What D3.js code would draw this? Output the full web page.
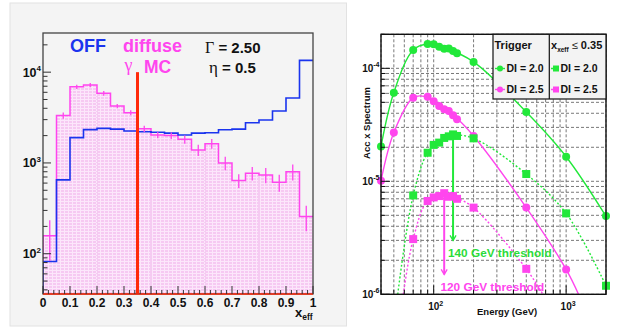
<!DOCTYPE html>
<html>
<head>
<meta charset="utf-8">
<script src="https://cdn.jsdelivr.net/npm/d3@7"></script>
<style>
  body { margin: 0; background: #fff; }
  text { font-family: "Liberation Sans", Arial, Helvetica, sans-serif; font-weight: bold; }
  .sym { font-family: "Liberation Serif", "DejaVu Serif", serif; font-weight: normal; }
</style>
</head>
<body>
<div id="chart"></div>
<script>
// ---------- left panel data : x_eff histograms ----------
var binLow = [0, 0.05, 0.1, 0.15, 0.2, 0.25, 0.3, 0.35, 0.4, 0.45,
              0.5, 0.55, 0.6, 0.65, 0.7, 0.75, 0.8, 0.85, 0.9, 0.95];
var binWidth = 0.05;
var offCounts = [82, 650, 1900, 2330, 2400, 2360, 2250, 2210, 2180, 2130,
                 2030, 2130, 2150, 2320, 2360, 2770, 2970, 3730, 5200, 13500];
var gammaCounts = [158, 3330, 6900, 7200, 5850, 4230, 3580, 2380, 2030, 2000,
                   1820, 1390, 1630, 1000, 640, 770, 738, 613, 800, 257];
var gammaErr = [75, 270, 370, 380, 370, 220, 230, 190, 160, 160,
                190, 200, 200, 170, 110, 130, 140, 130, 160, 80];
var xeffCut = 0.35;
var xTickLabels = ["0", "0.1", "0.2", "0.3", "0.4", "0.5", "0.6", "0.7", "0.8", "0.9", "1"];

// ---------- right panel data : acceptance x spectrum ----------
var energy = [40, 50, 70, 90, 100, 110, 120, 130, 140, 150, 200, 500, 1000, 2000];
var trigDI20 = [2.03e-5, 6.08e-5, 1.45e-4, 1.64e-4, 1.63e-4, 1.55e-4, 1.49e-4, 1.50e-4, 1.42e-4, 1.36e-4, 1.14e-4, 4.1e-5, 1.65e-5, 4.94e-6];
var trigDI25 = [1.01e-5, 2.71e-5, 5.5e-5, 5.6e-5, 5.1e-5, 4.64e-5, 4.34e-5, 4.2e-5, 3.84e-5, 3.54e-5, 2.52e-5, 5.85e-6, 1.66e-6, null];
var cutDI20 = [null, null, 7.5e-6, 1.79e-5, 2.1e-5, 2.2e-5, 2.42e-5, 2.5e-5, 2.6e-5, 2.52e-5, 2.4e-5, 1.16e-5, 5.2e-6, 1.19e-6];
var cutDI25 = [null, null, 3.08e-6, 6.7e-6, 7.2e-6, 7.4e-6, 7.85e-6, 7.3e-6, 7.4e-6, 7.0e-6, 5.85e-6, 1.68e-6, null, null];

// fitted curves (energy, value)
var fitTrig20 = [[40, 2.03e-5], [50, 6.1e-5], [70, 1.45e-4], [90, 1.64e-4], [120, 1.52e-4], [200, 1.14e-4], [500, 4.1e-5], [1000, 1.65e-5], [2000, 4.9e-6]];
var fitTrig25 = [[40, 1.01e-5], [50, 2.7e-5], [70, 5.5e-5], [85, 5.65e-5], [100, 5.1e-5], [150, 3.6e-5], [200, 2.52e-5], [500, 5.85e-6], [1000, 1.66e-6], [1240, 1e-6]];
var fitCut20 = [[53.5, 1e-6], [70, 7.5e-6], [90, 1.8e-5], [110, 2.25e-5], [140, 2.55e-5], [200, 2.4e-5], [500, 1.16e-5], [1000, 5.2e-6], [2000, 1.19e-6]];
var fitCut25 = [[59, 1e-6], [70, 3.08e-6], [90, 6.7e-6], [120, 7.6e-6], [150, 7.1e-6], [200, 5.85e-6], [500, 1.68e-6], [667, 1e-6]];

// threshold arrows: energy, from, to
var arrow140 = [140, 2.45e-5, 3e-6];
var arrow120 = [120, 7.4e-6, 1.5e-6];

var green = "#22e83a";
var magenta = "#ff45ee";
var blue = "#1a34ee";

var svg = d3.select("#chart").append("svg")
  .attr("width", 624)
  .attr("height", 327);

var defs = svg.append("defs");

// pink hatch pattern for gamma MC fill
var pat = defs.append("pattern")
  .attr("id", "pinkFill")
  .attr("patternUnits", "userSpaceOnUse")
  .attr("width", 4).attr("height", 3);
pat.append("rect").attr("width", 4).attr("height", 3).attr("fill", "#f6c9f2");
pat.append("rect").attr("width", 4).attr("height", 1).attr("fill", "#fce6fb");
pat.append("rect").attr("width", 1).attr("height", 3).attr("fill", "#fce6fb");

// ================= LEFT PANEL =================
svg.append("rect")
  .attr("x", 10).attr("y", 3)
  .attr("width", 336.5).attr("height", 323)
  .attr("fill", "#f4f4f4")
  .attr("stroke", "#e2e2e2");

var L = { left: 43, right: 313, top: 33, bottom: 294 };

var xL = d3.scaleLinear().domain([0, 1]).range([L.left, L.right]);
var yL = d3.scaleLog().domain([36, 27000]).range([L.bottom, L.top]);

defs.append("clipPath").attr("id", "clipL")
  .append("rect")
  .attr("x", L.left).attr("y", L.top)
  .attr("width", L.right - L.left).attr("height", L.bottom - L.top);

var leftG = svg.append("g").attr("clip-path", "url(#clipL)");

// step data with closing point at x = 1
function stepData(counts) {
  var d = binLow.map((b, i) => [b, counts[i]]);
  d.push([binLow[binLow.length - 1] + binWidth, counts[counts.length - 1]]);
  return d;
}

var gammaSteps = stepData(gammaCounts);
var offSteps = stepData(offCounts);

var gammaArea = d3.area()
  .curve(d3.curveStepAfter)
  .x(d => xL(d[0]))
  .y0(L.bottom)
  .y1(d => yL(d[1]));

// pink filled histogram
leftG.append("path")
  .datum(gammaSteps)
  .attr("fill", "url(#pinkFill)")
  .attr("d", gammaArea);

// faint dotted grid lines, only seen through the fill
defs.append("clipPath").attr("id", "clipFill")
  .append("path")
  .attr("d", gammaArea(gammaSteps));

leftG.append("g")
  .attr("clip-path", "url(#clipFill)")
  .selectAll(".vgrid")
  .data([0.2, 0.4, 0.6, 0.8])
  .enter()
  .append("line")
  .attr("x1", d => xL(d)).attr("x2", d => xL(d))
  .attr("y1", L.top).attr("y2", L.bottom)
  .attr("stroke", "#e8a8e4")
  .attr("stroke-width", 0.8)
  .attr("stroke-dasharray", "1,2");

// outlines: start from the bottom left corner
function outline(steps) {
  var pts = [[steps[0][0], null]].concat(steps);
  return d3.line()
    .curve(d3.curveStepAfter)
    .x(d => xL(d[0]))
    .y(d => d[1] === null ? L.bottom : yL(d[1]))(pts);
}

leftG.append("path")
  .attr("d", outline(gammaSteps))
  .attr("fill", "none")
  .attr("stroke", magenta)
  .attr("stroke-width", 1.5);

leftG.append("path")
  .attr("d", outline(offSteps))
  .attr("fill", "none")
  .attr("stroke", blue)
  .attr("stroke-width", 1.6);

// error bars on gamma MC
leftG.selectAll(".err")
  .data(gammaCounts)
  .enter()
  .append("line")
  .attr("x1", (d, i) => xL(binLow[i] + binWidth / 2))
  .attr("x2", (d, i) => xL(binLow[i] + binWidth / 2))
  .attr("y1", (d, i) => yL(d + gammaErr[i]))
  .attr("y2", (d, i) => yL(Math.max(d - gammaErr[i], 1)))
  .attr("stroke", magenta)
  .attr("stroke-width", 1.3);

// cut line at x_eff = 0.35
svg.append("line")
  .attr("x1", xL(xeffCut)).attr("x2", xL(xeffCut))
  .attr("y1", yL(10000)).attr("y2", L.bottom)
  .attr("stroke", "#ff2a0a")
  .attr("stroke-width", 3);

// frame
svg.append("rect")
  .attr("x", L.left).attr("y", L.top)
  .attr("width", L.right - L.left).attr("height", L.bottom - L.top)
  .attr("fill", "none")
  .attr("stroke", "#444")
  .attr("stroke-width", 1.3);

svg.append("line")
  .attr("x1", L.left).attr("x2", L.right)
  .attr("y1", L.bottom).attr("y2", L.bottom)
  .attr("stroke", "#ff2a0a")
  .attr("stroke-width", 1.5);

// x ticks (inside)
var xMinor = d3.range(0, 51).map(i => i / 50);
svg.selectAll(".xtick")
  .data(xMinor)
  .enter()
  .append("line")
  .attr("x1", d => xL(d)).attr("x2", d => xL(d))
  .attr("y1", L.bottom)
  .attr("y2", (d, i) => i % 5 === 0 ? L.bottom - 8 : L.bottom - 4)
  .attr("stroke", "#333")
  .attr("stroke-width", 1);

svg.selectAll(".xlab")
  .data(xTickLabels)
  .enter()
  .append("text")
  .attr("x", (d, i) => xL(i / 10))
  .attr("y", 307)
  .attr("text-anchor", "middle")
  .attr("font-size", "12px")
  .attr("fill", "#111")
  .text(d => d);

var xTitle = svg.append("text")
  .attr("x", 295).attr("y", 316.5)
  .attr("font-size", "13px")
  .attr("fill", "#111");
xTitle.append("tspan").text("x");
xTitle.append("tspan").attr("font-size", "8.5px").attr("dy", 3.5).text("eff");

// y ticks (log)
var yTicksL = [];
[10, 100, 1000, 10000].forEach(dec => {
  for (var k = 1; k < 10; k++) {
    var v = k * dec;
    if (v >= 36 && v <= 27000) yTicksL.push({ v: v, major: k === 1 });
  }
});

svg.selectAll(".ytick")
  .data(yTicksL)
  .enter()
  .append("line")
  .attr("x1", L.left)
  .attr("x2", d => d.major ? L.left + 8 : L.left + 4.5)
  .attr("y1", d => yL(d.v)).attr("y2", d => yL(d.v))
  .attr("stroke", "#333")
  .attr("stroke-width", 1);

var yLabL = svg.selectAll(".ylab")
  .data([2, 3, 4])
  .enter()
  .append("text")
  .attr("x", 41)
  .attr("y", d => yL(Math.pow(10, d)) + 4.5)
  .attr("text-anchor", "end")
  .attr("font-size", "12.5px")
  .attr("fill", "#111");
yLabL.append("tspan").text("10");
yLabL.append("tspan").attr("font-size", "8px").attr("dy", -5.5).text(d => d);

// labels in the plot
svg.append("text").attr("x", 70).attr("y", 52)
  .attr("font-size", "18px").attr("fill", blue).text("OFF");
svg.append("text").attr("x", 123).attr("y", 52)
  .attr("font-size", "18px").attr("fill", magenta).text("diffuse");
svg.append("text").attr("class", "sym").attr("x", 124.5).attr("y", 71)
  .attr("font-size", "18px").attr("fill", magenta).text("γ");
svg.append("text").attr("x", 144).attr("y", 73)
  .attr("font-size", "17.5px").attr("fill", magenta).text("MC");

var gTxt = svg.append("text").attr("x", 205).attr("y", 52.5)
  .attr("font-size", "15px").attr("fill", "#111");
gTxt.append("tspan").attr("class", "sym").attr("font-size", "16px").text("Γ");
gTxt.append("tspan").text(" = 2.50");

var eTxt = svg.append("text").attr("x", 209).attr("y", 73)
  .attr("font-size", "15px").attr("fill", "#111");
eTxt.append("tspan").attr("class", "sym").attr("font-size", "17px").text("η");
eTxt.append("tspan").text(" = 0.5");

// ================= RIGHT PANEL =================
var R = { left: 381, right: 606, top: 34.3, bottom: 294.3 };

var xR = d3.scaleLog().domain([40, 2000]).range([R.left, R.right]);
var yR = d3.scaleLog().domain([1e-6, 2e-4]).range([R.bottom, R.top]);

svg.append("rect")
  .attr("x", R.left).attr("y", R.top)
  .attr("width", R.right - R.left).attr("height", R.bottom - R.top)
  .attr("fill", "#fff");

// grid positions
var xGrid = [];
[10, 100, 1000].forEach(dec => {
  for (var k = 1; k < 10; k++) {
    var v = k * dec;
    if (v >= 40 && v <= 2000) xGrid.push({ v: v, major: k === 1 });
  }
});
var yGrid = [];
[1e-6, 1e-5, 1e-4].forEach(dec => {
  for (var k = 1; k < 10; k++) {
    var v = k * dec;
    if (v >= 1e-6 * 0.999 && v <= 2e-4 * 1.001) yGrid.push({ v: v, major: k === 1 });
  }
});

var gridG = svg.append("g");
gridG.selectAll(".gx")
  .data(xGrid)
  .enter()
  .append("line")
  .attr("x1", d => xR(d.v)).attr("x2", d => xR(d.v))
  .attr("y1", R.top).attr("y2", R.bottom)
  .attr("stroke", "#6a6a6a")
  .attr("stroke-width", 0.9)
  .attr("stroke-dasharray", "3,2");
gridG.selectAll(".gy")
  .data(yGrid)
  .enter()
  .append("line")
  .attr("x1", R.left).attr("x2", R.right)
  .attr("y1", d => yR(d.v)).attr("y2", d => yR(d.v))
  .attr("stroke", "#6a6a6a")
  .attr("stroke-width", 0.9)
  .attr("stroke-dasharray", "3,2");

defs.append("clipPath").attr("id", "clipR")
  .append("rect")
  .attr("x", R.left).attr("y", R.top)
  .attr("width", R.right - R.left).attr("height", R.bottom - R.top);

var curveG = svg.append("g").attr("clip-path", "url(#clipR)");

var fitLine = d3.line()
  .curve(d3.curveCatmullRom.alpha(0.5))
  .x(d => xR(d[0]))
  .y(d => yR(d[1]));

[
  { pts: fitTrig20, color: green, dash: null },
  { pts: fitTrig25, color: magenta, dash: null },
  { pts: fitCut20, color: green, dash: "2,2" },
  { pts: fitCut25, color: magenta, dash: "2,2" }
].forEach(c => {
  curveG.append("path")
    .attr("d", fitLine(c.pts))
    .attr("fill", "none")
    .attr("stroke", c.color)
    .attr("stroke-width", 1.4)
    .attr("stroke-dasharray", c.dash);
});

// arrows
function drawArrow(a, color) {
  var x = xR(a[0]), y1 = yR(a[1]), y2 = yR(a[2]);
  svg.append("line")
    .attr("x1", x).attr("x2", x)
    .attr("y1", y1).attr("y2", y2)
    .attr("stroke", color)
    .attr("stroke-width", 2);
  svg.append("path")
    .attr("d", `M${x - 3},${y2 - 5} L${x},${y2} L${x + 3},${y2 - 5}`)
    .attr("fill", "none")
    .attr("stroke", color)
    .attr("stroke-width", 1.3);
}
drawArrow(arrow140, green);
drawArrow(arrow120, magenta);

// markers
function drawCircles(vals, color) {
  svg.append("g").selectAll("circle")
    .data(vals.map((v, i) => [energy[i], v]).filter(d => d[1] !== null))
    .enter()
    .append("circle")
    .attr("cx", d => xR(d[0]))
    .attr("cy", d => yR(d[1]))
    .attr("r", 4)
    .attr("fill", color);
}
function drawSquares(vals, color) {
  svg.append("g").selectAll("rect")
    .data(vals.map((v, i) => [energy[i], v]).filter(d => d[1] !== null))
    .enter()
    .append("rect")
    .attr("x", d => xR(d[0]) - 4)
    .attr("y", d => yR(d[1]) - 4)
    .attr("width", 8).attr("height", 8)
    .attr("fill", color);
}
drawCircles(trigDI20, green);
drawCircles(trigDI25, magenta);
drawSquares(cutDI20, green);
drawSquares(cutDI25, magenta);

// threshold labels
svg.append("text").attr("x", 448).attr("y", 256.5)
  .attr("font-size", "11.8px").attr("fill", "#2bdc3a").text("140 GeV threshold");
svg.append("text").attr("x", 440.5).attr("y", 290.5)
  .attr("font-size", "11.8px").attr("fill", magenta).text("120 GeV threshold");

// frame
svg.append("rect")
  .attr("x", R.left).attr("y", R.top)
  .attr("width", R.right - R.left).attr("height", R.bottom - R.top)
  .attr("fill", "none")
  .attr("stroke", "#111")
  .attr("stroke-width", 1.4);

// ticks
svg.selectAll(".rxt")
  .data(xGrid)
  .enter()
  .append("line")
  .attr("x1", d => xR(d.v)).attr("x2", d => xR(d.v))
  .attr("y1", R.bottom)
  .attr("y2", d => d.major ? R.bottom - 9 : R.bottom - 4.5)
  .attr("stroke", "#111");
svg.selectAll(".ryt")
  .data(yGrid)
  .enter()
  .append("line")
  .attr("x1", R.left)
  .attr("x2", d => d.major ? R.left + 9 : R.left + 4.5)
  .attr("y1", d => yR(d.v)).attr("y2", d => yR(d.v))
  .attr("stroke", "#111");

var rxLab = svg.selectAll(".rxl")
  .data([2, 3])
  .enter()
  .append("text")
  .attr("x", d => xR(Math.pow(10, d)) + 2)
  .attr("y", 310)
  .attr("text-anchor", "middle")
  .attr("font-size", "10px")
  .attr("fill", "#111");
rxLab.append("tspan").text("10");
rxLab.append("tspan").attr("font-size", "7px").attr("dy", -4.5).text(d => d);

var ryLab = svg.selectAll(".ryl")
  .data([-6, -5, -4])
  .enter()
  .append("text")
  .attr("x", 379.5)
  .attr("y", d => yR(Math.pow(10, d)) + 3.5)
  .attr("text-anchor", "end")
  .attr("font-size", "10px")
  .attr("fill", "#111");
ryLab.append("tspan").text("10");
ryLab.append("tspan").attr("font-size", "7px").attr("dy", -4.5).text(d => "-" + Math.abs(d));

svg.append("text").attr("x", 477).attr("y", 315)
  .attr("font-size", "9.5px").attr("fill", "#111").text("Energy (GeV)");
svg.append("text")
  .attr("transform", "translate(369.5,123) rotate(-90)")
  .attr("text-anchor", "middle")
  .attr("font-size", "9.5px").attr("fill", "#111").text("Acc x Spectrum");

// legend
var lg = svg.append("g");
lg.append("rect")
  .attr("x", 493).attr("y", R.top)
  .attr("width", R.right - 493).attr("height", 99 - R.top)
  .attr("fill", "#f3f3f3")
  .attr("stroke", "#111")
  .attr("stroke-width", 1.2);
lg.append("line")
  .attr("x1", 549.3).attr("x2", 549.3)
  .attr("y1", R.top).attr("y2", 99)
  .attr("stroke", "#111").attr("stroke-width", 1.2);

lg.append("text").attr("x", 494.5).attr("y", 49)
  .attr("font-size", "11px").attr("fill", "#111").text("Trigger");
var hdr = lg.append("text").attr("x", 551).attr("y", 49)
  .attr("font-size", "11px").attr("fill", "#111");
hdr.append("tspan").text("x");
hdr.append("tspan").attr("font-size", "6.5px").attr("dy", 2.5).text("xeff");
hdr.append("tspan").attr("dy", -2.5).attr("font-weight", "normal").text(" ≤ ");
hdr.append("tspan").text("0.35");

var legRows = [
  { y: 68.5, color: green, label: "DI = 2.0" },
  { y: 89.5, color: magenta, label: "DI = 2.5" }
];
legRows.forEach(r => {
  lg.append("line").attr("x1", 495).attr("x2", 505)
    .attr("y1", r.y).attr("y2", r.y)
    .attr("stroke", r.color).attr("stroke-width", 1.4);
  lg.append("circle").attr("cx", 500).attr("cy", r.y).attr("r", 3)
    .attr("fill", r.color);
  lg.append("text").attr("x", 506.5).attr("y", r.y + 3.8)
    .attr("font-size", "10.5px").attr("fill", "#111").text(r.label);

  lg.append("line").attr("x1", 551).attr("x2", 560)
    .attr("y1", r.y).attr("y2", r.y)
    .attr("stroke", r.color).attr("stroke-width", 1.4)
    .attr("stroke-dasharray", "2,1");
  lg.append("rect").attr("x", 553).attr("y", r.y - 3).attr("width", 6).attr("height", 6)
    .attr("fill", r.color);
  lg.append("text").attr("x", 560.5).attr("y", r.y + 3.8)
    .attr("font-size", "10.5px").attr("fill", "#111").text(r.label);
});
</script>
</body>
</html>
